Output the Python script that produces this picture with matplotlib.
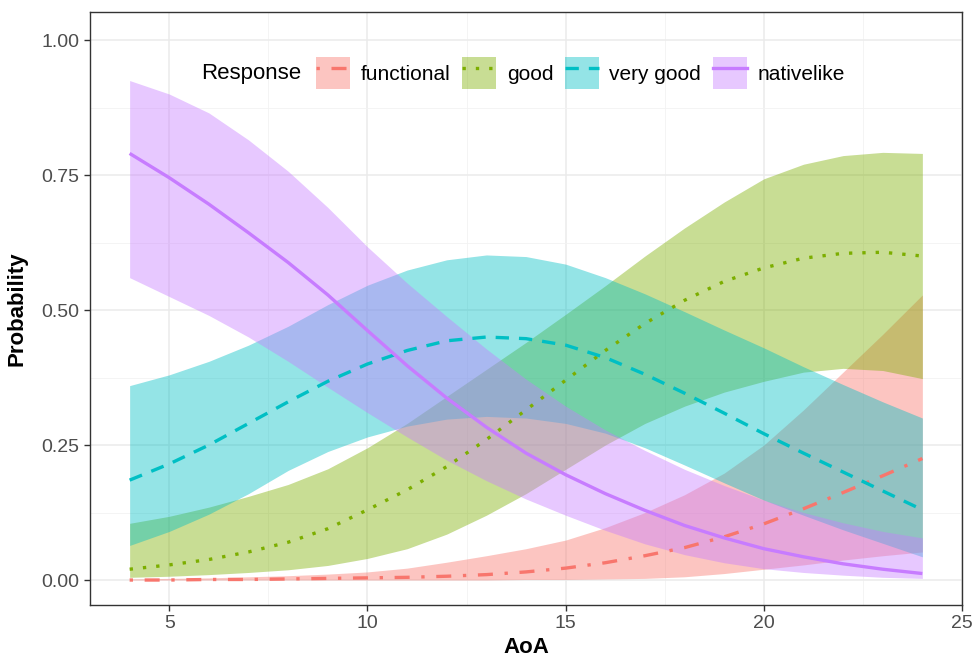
import matplotlib
matplotlib.use("Agg")
import matplotlib.pyplot as plt
from matplotlib.lines import Line2D
from matplotlib.patches import Patch
from matplotlib.ticker import MultipleLocator

plt.rcParams['font.family'] = ['Liberation Sans', 'DejaVu Sans']

# AoA grid
aoa = list(range(4, 25))

# functional
func_fit = [0.000, 0.000, 0.001, 0.001, 0.002, 0.003, 0.004, 0.005, 0.007, 0.010, 0.015,
            0.022, 0.032, 0.045, 0.060, 0.080, 0.104, 0.132, 0.162, 0.193, 0.225]
func_lo = [0.000, 0.000, 0.000, 0.000, 0.000, 0.000, 0.000, 0.000, 0.000, 0.000, 0.001,
           0.001, 0.002, 0.003, 0.006, 0.012, 0.020, 0.028, 0.037, 0.045, 0.052]
func_hi = [0.002, 0.003, 0.004, 0.006, 0.008, 0.011, 0.015, 0.022, 0.033, 0.045, 0.058,
           0.074, 0.097, 0.125, 0.158, 0.198, 0.250, 0.315, 0.385, 0.455, 0.528]

# good
good_fit = [0.020, 0.028, 0.038, 0.052, 0.070, 0.095, 0.130, 0.167, 0.210, 0.260, 0.315,
            0.370, 0.425, 0.475, 0.518, 0.553, 0.578, 0.596, 0.605, 0.607, 0.600]
good_lo = [0.005, 0.007, 0.010, 0.014, 0.019, 0.027, 0.040, 0.058, 0.085, 0.120, 0.160,
           0.205, 0.250, 0.290, 0.322, 0.348, 0.368, 0.385, 0.392, 0.388, 0.373]
good_hi = [0.105, 0.118, 0.135, 0.155, 0.177, 0.206, 0.245, 0.290, 0.340, 0.390, 0.440,
           0.492, 0.545, 0.600, 0.652, 0.700, 0.743, 0.770, 0.786, 0.792, 0.790]

# very good
vg_fit = [0.185, 0.215, 0.250, 0.290, 0.330, 0.368, 0.400, 0.425, 0.443, 0.450, 0.447,
          0.435, 0.412, 0.381, 0.346, 0.309, 0.271, 0.235, 0.200, 0.165, 0.130]
vg_lo = [0.064, 0.090, 0.122, 0.160, 0.203, 0.238, 0.265, 0.285, 0.298, 0.303, 0.300,
         0.290, 0.272, 0.245, 0.213, 0.180, 0.148, 0.120, 0.093, 0.068, 0.043]
vg_hi = [0.360, 0.380, 0.405, 0.435, 0.470, 0.510, 0.546, 0.574, 0.593, 0.602, 0.599,
         0.585, 0.560, 0.530, 0.497, 0.463, 0.430, 0.395, 0.362, 0.330, 0.300]

# nativelike
nat_fit = [0.790, 0.745, 0.696, 0.643, 0.588, 0.528, 0.462, 0.397, 0.337, 0.283, 0.235,
           0.195, 0.160, 0.129, 0.101, 0.078, 0.058, 0.043, 0.030, 0.020, 0.012]
nat_lo = [0.560, 0.525, 0.490, 0.450, 0.405, 0.357, 0.310, 0.265, 0.222, 0.184, 0.150,
          0.120, 0.092, 0.067, 0.047, 0.032, 0.021, 0.014, 0.009, 0.005, 0.003]
nat_hi = [0.925, 0.900, 0.865, 0.815, 0.757, 0.690, 0.617, 0.550, 0.488, 0.428, 0.372,
          0.322, 0.278, 0.240, 0.205, 0.175, 0.148, 0.125, 0.106, 0.090, 0.078]

labels = ["functional", "good", "very good", "nativelike"]
colors = ["#F8766D", "#7CAE00", "#00BFC4", "#C77CFF"]
fits = [func_fit, good_fit, vg_fit, nat_fit]
los = [func_lo, good_lo, vg_lo, nat_lo]
his = [func_hi, good_hi, vg_hi, nat_hi]
dashes = [(1, 3.5, 4.5, 3.5), (1, 3), (4, 3), None]

fig = plt.figure(figsize=(9.73, 6.6), dpi=100)
ax = fig.add_axes([0.0925, 0.0833, 0.8962, 0.8985])

# ribbons first, lines on top (ggplot order)
for lo, hi, c in zip(los, his, colors):
    ax.fill_between(aoa, lo, hi, color=c, alpha=0.42, linewidth=0)

lw = 2.4
handles = []
for fit, c, d, lab in zip(fits, colors, dashes, labels):
    ln, = ax.plot(aoa, fit, color=c, lw=lw, solid_capstyle='butt', dash_capstyle='butt')
    if d is not None:
        ln.set_dashes(d)
    key_line = Line2D([], [], color=c, lw=lw, dash_capstyle='butt')
    if d is not None:
        key_line.set_dashes(d)
    handles.append((Patch(facecolor=c, alpha=0.42, edgecolor='none'), key_line))

ax.set_xlim(3, 25)
ax.set_ylim(-0.0463, 1.0519)
ax.xaxis.set_major_locator(MultipleLocator(5))
ax.xaxis.set_minor_locator(MultipleLocator(2.5))
ax.yaxis.set_major_locator(MultipleLocator(0.25))
ax.yaxis.set_minor_locator(MultipleLocator(0.125))
ax.yaxis.set_major_formatter(plt.FuncFormatter(lambda v, p: f"{v:.2f}"))
ax.grid(which='major', color='#EBEBEB', lw=1.1)
ax.grid(which='minor', color='#F2F2F2', lw=0.6)
ax.set_axisbelow(True)
ax.tick_params(which='major', direction='out', length=4, width=1, color='#333333',
               labelsize=14, labelcolor='#4D4D4D')
ax.tick_params(which='minor', length=0)
for s in ax.spines.values():
    s.set_color('#333333')
    s.set_linewidth(1)

ax.set_xlabel("AoA", fontsize=16, fontweight='bold', labelpad=3)
ax.set_ylabel("Probability", fontsize=16, fontweight='bold', labelpad=10)

leg = ax.legend(handles, labels, loc='center left', bbox_to_anchor=(0.259, 0.897),
                ncol=4, frameon=False, fontsize=15, handlelength=1.65, handleheight=2.0,
                handletextpad=0.5, columnspacing=0.55, borderpad=0, borderaxespad=0)
ax.text(0.128, 0.897, "Response", transform=ax.transAxes, fontsize=16,
        va='center', ha='left', color='black')

fig.savefig("out.png", dpi=100)
